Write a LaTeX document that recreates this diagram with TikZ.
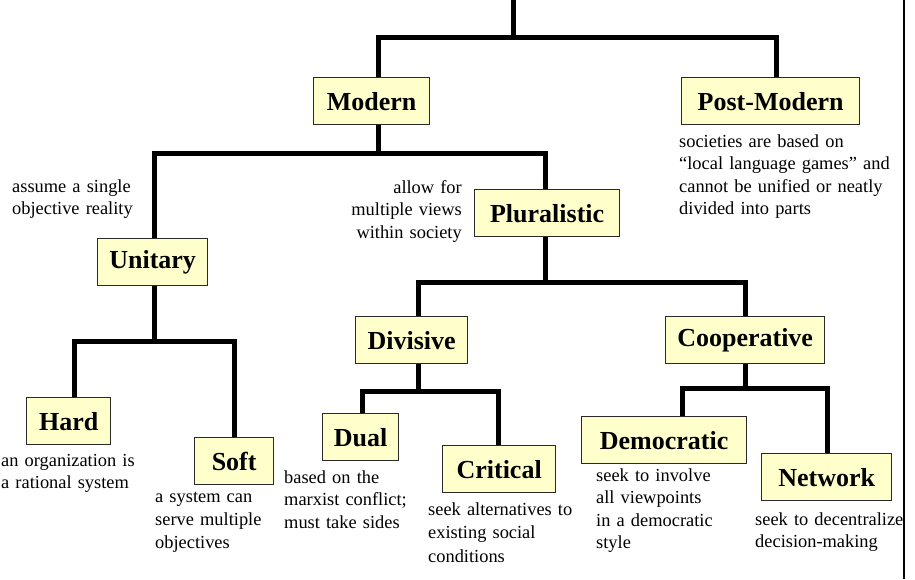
\documentclass[tikz,border=0pt]{standalone}
\usepackage{fontspec}
\setmainfont{Liberation Serif}
\definecolor{boxfill}{HTML}{FFFFCC}
\definecolor{boxline}{HTML}{2A2A2A}
\begin{document}
\begin{tikzpicture}[x=1pt,y=-1pt,
  box/.style={draw=boxline, line width=1.3pt, fill=boxfill,
    font=\fontsize{26}{30}\selectfont\bfseries, inner sep=0pt,
    minimum height=47pt, anchor=north west},
  note/.style={font=\fontsize{18.4}{22.5}\selectfont, inner sep=0pt,
    text width=230pt, align=left, anchor=base west},
  rnote/.style={note, align=right, anchor=base east},
  link/.style={line width=5pt, draw=black},
  frame/.style={line width=1.2pt, draw=black}]
\useasboundingbox (0,0) rectangle (915,579);

% category boxes (placed by their top-left corner)
\node[box, minimum width=116pt] (modern)     at (313,77)  {Modern};
\node[box, minimum width=178pt] (postmodern) at (681,77)  {Post-Modern};
\node[box, minimum width=110pt] (unitary)    at (97,238)  {Unitary};
\node[box, minimum width=145pt] (plural)     at (474,189) {Pluralistic};
\node[box, minimum width=112pt] (divisive)   at (355,316) {Divisive};
\node[box, minimum width=159pt] (coop)       at (665,316) {Cooperative};
\node[box, minimum width=84pt]  (hard)       at (26,397)  {Hard};
\node[box, minimum width=79pt]  (soft)       at (194,437) {Soft};
\node[box, minimum width=76pt]  (dual)       at (322,413) {Dual};
\node[box, minimum width=113pt] (critical)   at (442,445) {Critical};
\node[box, minimum width=165pt] (democ)      at (581,416) {Democratic};
\node[box, minimum width=130pt] (network)    at (761,453) {Network};

% stem positions of the boxes
\coordinate (sMod)  at (378,0);
\coordinate (sPM)   at (776,0);
\coordinate (sUni)  at (154,0);
\coordinate (sPlu)  at (545,0);
\coordinate (sDiv)  at (418,0);
\coordinate (sCoop) at (745,0);
\coordinate (sHard) at (74,0);
\coordinate (sSoft) at (234,0);
\coordinate (sDual) at (362,0);
\coordinate (sCrit) at (498,0);
\coordinate (sDem)  at (682,0);
\coordinate (sNet)  at (827,0);

% branching points
\coordinate (top)   at (513,0);
\coordinate (bRoot) at (513,37);
\coordinate (bMod)  at (378,153);
\coordinate (bUni)  at (154,341);
\coordinate (bPlu)  at (545,282);
\coordinate (bDiv)  at (418,391);
\coordinate (bCoop) at (745,388);

% tree connectors
\draw[link] (top) -- (bRoot) -| (modern.north -| sMod);
\draw[link] (bRoot) -| (postmodern.north -| sPM);

\draw[link] (modern.south -| sMod) -- (bMod) -| (unitary.north -| sUni);
\draw[link] (bMod) -| (plural.north -| sPlu);

\draw[link] (unitary.south -| sUni) -- (bUni) -| (hard.north -| sHard);
\draw[link] (bUni) -| (soft.north -| sSoft);

\draw[link] (plural.south -| sPlu) -- (bPlu) -| (divisive.north -| sDiv);
\draw[link] (bPlu) -| (coop.north -| sCoop);

\draw[link] (divisive.south -| sDiv) -- (bDiv) -| (dual.north -| sDual);
\draw[link] (bDiv) -| (critical.north -| sCrit);

\draw[link] (coop.south -| sCoop) -- (bCoop) -| (democ.north -| sDem);
\draw[link] (bCoop) -| (network.north -| sNet);

% descriptions
\node[note] (pmnote) at (679,147)
  {societies are based on\\“local language games” and\\cannot be unified or neatly\\divided into parts};
\node[note] (uninote) at (12,192) {assume a single\\objective reality};
\node[rnote] (plunote) at (462,193) {allow for\\multiple views\\within society};
\node[note] (hardnote) at (1,466) {an organization is\\a rational system};
\node[note, font=\fontsize{18.4}{23}\selectfont] (softnote) at (155,502)
  {a system can\\serve multiple\\objectives};
\node[note] (dualnote) at (284,483) {based on the\\marxist conflict;\\must take sides};
\node[note, font=\fontsize{18.4}{23.5}\selectfont] (critnote) at (428,515)
  {seek alternatives to\\existing social\\conditions};
\node[note] (demnote) at (596,481)
  {seek to involve\\all viewpoints\\in a democratic\\style};
\node[note] (netnote) at (755,525) {seek to decentralize\\decision-making};

% right-hand rule
\coordinate (frameTop) at (904,0);
\coordinate (frameBot) at (904,579);
\draw[frame] (frameTop) -- (frameBot);
\end{tikzpicture}
\end{document}
